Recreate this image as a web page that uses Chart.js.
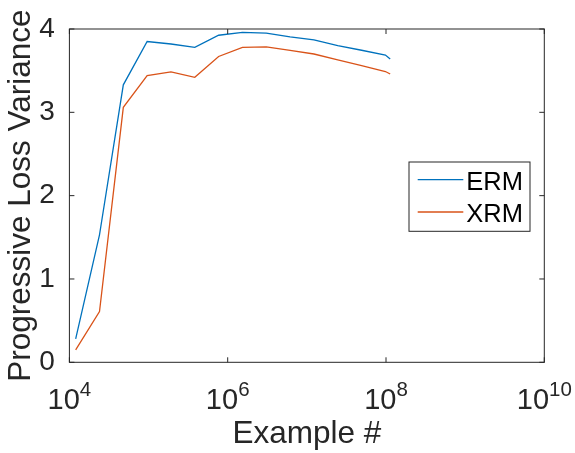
<!DOCTYPE html>
<html>
<head>
<meta charset="utf-8">
<script src="https://cdn.jsdelivr.net/npm/chart.js@4.4.0/dist/chart.umd.min.js"></script>
<style>
  html, body { margin: 0; padding: 0; background: #fff; }
  canvas { display: block; }
</style>
</head>
<body>
<canvas id="chart" width="575" height="453"></canvas>
<script>
// data
var examples = [12000, 24000, 48000, 96000, 192000, 384000, 768000, 1536000,
  3072000, 6144000, 12288000, 24576000, 49152000, 98304000, 113000000];
var ermVariance = [0.28, 1.53, 3.33, 3.85, 3.82, 3.78, 3.925, 3.96,
  3.95, 3.905, 3.87, 3.80, 3.745, 3.687, 3.64];
var xrmVariance = [0.15, 0.61, 3.06, 3.44, 3.485, 3.42, 3.67, 3.78,
  3.785, 3.743, 3.70, 3.63, 3.56, 3.49, 3.46];
var xTickExponents = [4, 6, 8, 10];
var yTickValues = [0, 1, 2, 3, 4];

var FONT = '"Liberation Sans", Arial, Helvetica, sans-serif';
var AXIS_COLOR = '#262626';

function toPoints(xs, ys) {
  return xs.map(function(x, i) { return { x: x, y: ys[i] }; });
}

// MATLAB style box, inward ticks, 10^n labels and legend
var matlabAxes = {
  id: 'matlabAxes',
  afterDraw: function(chart) {
    var ctx = chart.ctx;
    var a = chart.chartArea;
    var xs = chart.scales.x;
    var ys = chart.scales.y;
    var tickLen = 5;

    ctx.save();
    ctx.strokeStyle = AXIS_COLOR;
    ctx.lineWidth = 1;
    ctx.strokeRect(a.left, a.top, a.right - a.left, a.bottom - a.top);

    ctx.beginPath();
    xTickExponents.forEach(function(e) {
      var px = xs.getPixelForValue(Math.pow(10, e));
      ctx.moveTo(px, a.bottom); ctx.lineTo(px, a.bottom - tickLen);
      ctx.moveTo(px, a.top); ctx.lineTo(px, a.top + tickLen);
    });
    yTickValues.forEach(function(v) {
      var py = ys.getPixelForValue(v);
      ctx.moveTo(a.left, py); ctx.lineTo(a.left + tickLen, py);
      ctx.moveTo(a.right, py); ctx.lineTo(a.right - tickLen, py);
    });
    ctx.stroke();

    // x tick labels: 10 with a raised exponent
    ctx.fillStyle = AXIS_COLOR;
    ctx.textBaseline = 'alphabetic';
    ctx.textAlign = 'left';
    var baseFont = '29px ' + FONT;
    var expFont = '20.5px ' + FONT;
    xTickExponents.forEach(function(e) {
      var px = xs.getPixelForValue(Math.pow(10, e));
      ctx.font = baseFont;
      var wBase = ctx.measureText('10').width;
      ctx.font = expFont;
      var wExp = ctx.measureText(String(e)).width;
      var x0 = px - (wBase + wExp) / 2;
      ctx.font = baseFont;
      ctx.fillText('10', x0, a.bottom + 47);
      ctx.font = expFont;
      ctx.fillText(String(e), x0 + wBase, a.bottom + 33.4);
    });

    // legend
    var box = { left: 409, top: 162, width: 121, height: 69.3 };
    ctx.fillStyle = '#fff';
    ctx.fillRect(box.left, box.top, box.width, box.height);
    ctx.strokeStyle = AXIS_COLOR;
    ctx.lineWidth = 1;
    ctx.strokeRect(box.left, box.top, box.width, box.height);
    var rows = [179.7, 212];
    chart.data.datasets.forEach(function(ds, i) {
      ctx.strokeStyle = ds.borderColor;
      ctx.lineWidth = ds.borderWidth;
      ctx.beginPath();
      ctx.moveTo(417.7, rows[i]);
      ctx.lineTo(463.3, rows[i]);
      ctx.stroke();
      ctx.fillStyle = '#000';
      ctx.font = '25.5px ' + FONT;
      ctx.fillText(ds.label, 466.3, rows[i] + 10);
    });
    ctx.restore();
  }
};

new Chart(document.getElementById('chart'), {
  type: 'line',
  data: {
    datasets: [
      {
        label: 'ERM',
        data: toPoints(examples, ermVariance),
        borderColor: '#0072BD',
        borderWidth: 1.3,
        pointRadius: 0,
        tension: 0,
        fill: false
      },
      {
        label: 'XRM',
        data: toPoints(examples, xrmVariance),
        borderColor: '#D95319',
        borderWidth: 1.3,
        pointRadius: 0,
        tension: 0,
        fill: false
      }
    ]
  },
  options: {
    responsive: false,
    devicePixelRatio: 1,
    animation: false,
    layout: { padding: { top: 29, right: 30.7, left: 0, bottom: 0 } },
    plugins: {
      legend: { display: false },
      tooltip: { enabled: false }
    },
    scales: {
      x: {
        type: 'logarithmic',
        min: 1e4,
        max: 1e10,
        grid: { display: false },
        border: { display: false },
        ticks: { display: false },
        title: {
          display: true,
          text: 'Example #',
          color: AXIS_COLOR,
          font: { family: FONT, size: 31.5, lineHeight: 1 },
          padding: { top: 0, bottom: 2.5 }
        },
        afterFit: function(scale) { scale.height = 90.7; }
      },
      y: {
        type: 'linear',
        min: 0,
        max: 4,
        grid: { display: false },
        border: { display: false },
        ticks: {
          stepSize: 1,
          color: AXIS_COLOR,
          padding: 6.5,
          font: { family: FONT, size: 28 }
        },
        title: {
          display: true,
          text: 'Progressive Loss Variance',
          color: AXIS_COLOR,
          font: { family: FONT, size: 31.5, lineHeight: 1 },
          padding: { top: 5.3, bottom: 0 }
        },
        afterFit: function(scale) { scale.width = 69.4; }
      }
    }
  },
  plugins: [matlabAxes]
});
</script>
</body>
</html>
